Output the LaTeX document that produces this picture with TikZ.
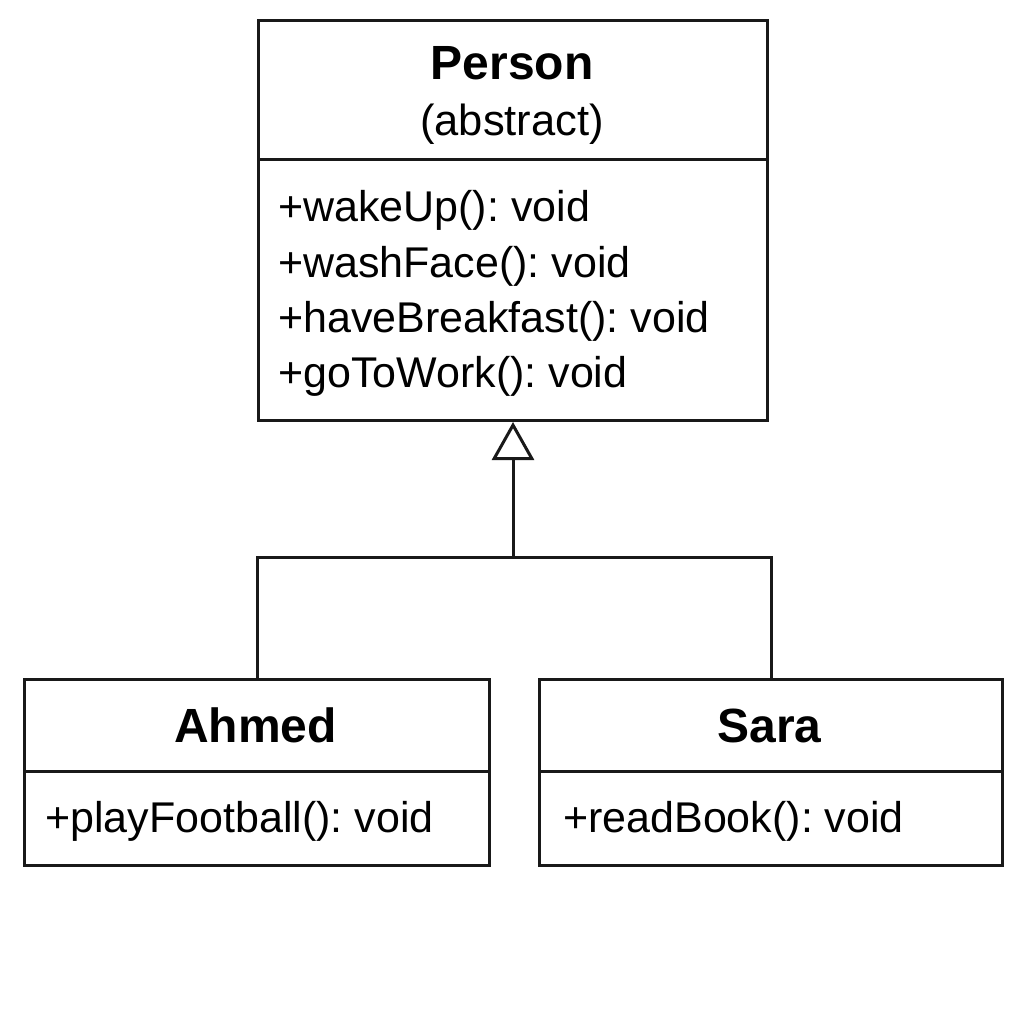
\documentclass[tikz,border=0pt]{standalone}
\usepackage{fontspec}
\setmainfont{Liberation Sans}
\usetikzlibrary{arrows.meta}
\frenchspacing
\begin{document}
\begin{tikzpicture}[x=1pt,y=-1pt,
  box/.style={draw=black!90, line width=3pt, inner sep=0pt, anchor=north west},
  title/.style={font=\fontsize{48}{54}\selectfont\bfseries, inner sep=0pt, anchor=base},
  meth/.style={font=\fontsize{43}{50}\selectfont, inner sep=0pt, anchor=base west},
  sub/.style={font=\fontsize{43.5}{50}\selectfont, inner sep=0pt, anchor=base},
  sep/.style={draw=black!90, line width=3pt},
  conn/.style={draw=black!90, line width=3pt}]
\useasboundingbox (0,0) rectangle (1024,1024);
\fill[white] (0,0) rectangle (1024,1024);
% Person
\node[box, minimum width=509pt, minimum height=400pt] (person) at (257,19) {};
\draw[sep] (257,160) -- (766,160);
\node[title] (pname) at (512,80) {Person};
\node[sub] (pabs) at (512,136) {(abstract)};
\node[meth] (m1) at (278,222) {+wakeUp(): void};
\node[meth] (m2) at (278,277) {+washFace(): void};
\node[meth] (m3) at (278,332) {+haveBreakfast(): void};
\node[meth] (m4) at (278,387) {+goToWork(): void};
% Ahmed
\node[box, minimum width=465pt, minimum height=186pt] (ahmed) at (23,678) {};
\draw[sep] (23,771) -- (488,771);
\node[title] (aname) at (255.5,742) {Ahmed};
\node[meth] (am) at (45,832) {+playFootball(): void};
% Sara
\node[box, minimum width=463pt, minimum height=186pt] (sara) at (538,678) {};
\draw[sep] (538,771) -- (1001,771);
\node[title] (sname) at (769.5,742) {Sara};
\node[meth] (sm) at (563,832) {+readBook(): void};
% connectors
\coordinate (j) at (person.south |- 0,557);
\draw[conn] (ahmed.north) |- (j) -| (sara.north);
\draw[conn, -{Triangle[open, length=38pt, width=42pt, line width=3pt]}] (j) -- (person.south);
\end{tikzpicture}
\end{document}
